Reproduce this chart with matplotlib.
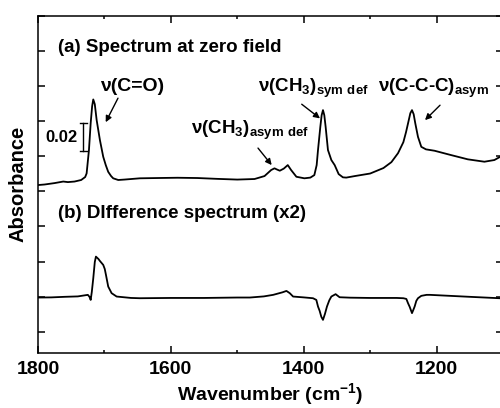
import numpy as np
from matplotlib import pyplot as plt
from matplotlib.ticker import MultipleLocator

plt.rcParams['font.family'] = ['Liberation Sans', 'DejaVu Sans']
plt.rcParams['font.weight'] = 'bold'
plt.rcParams['mathtext.default'] = 'regular'

# (a) spectrum at zero field
wn_a = [1800, 1790, 1775, 1762, 1755, 1745, 1735, 1729, 1726.8, 1723.3, 1720.7, 1718.5,
        1716.8, 1714.5, 1711.7, 1706.8, 1701.8, 1698, 1694.3, 1690, 1686.8, 1679.2, 1670,
        1646.6, 1620, 1590, 1560, 1530, 1500, 1474, 1459, 1449, 1444, 1440, 1436, 1430,
        1424, 1419, 1411, 1399, 1390, 1384, 1380.5, 1378.5, 1375, 1373, 1371, 1369, 1367,
        1363.5, 1358.4, 1353.4, 1347.4, 1341, 1336, 1323, 1300, 1280, 1268, 1258, 1250,
        1246, 1243, 1239.5, 1237, 1234.5, 1232, 1228, 1223, 1216, 1203, 1178, 1153, 1128,
        1113, 1105, 1100]
abs_a = [0.1044, 0.1048, 0.1058, 0.1069, 0.1065, 0.1069, 0.1080, 0.1101, 0.1127, 0.1293,
         0.1484, 0.1605, 0.1653, 0.1619, 0.1506, 0.1364, 0.1245, 0.1186, 0.1138, 0.1108,
         0.1092, 0.1080, 0.1083, 0.1092, 0.1094, 0.1096, 0.1094, 0.1088, 0.1083, 0.1087,
         0.1108, 0.1151, 0.1163, 0.1154, 0.1146, 0.1161, 0.1186, 0.1151, 0.1103, 0.1092,
         0.1097, 0.1115, 0.1186, 0.1293, 0.1458, 0.1541, 0.1577, 0.1541, 0.1458, 0.1293,
         0.1222, 0.1186, 0.1122, 0.1099, 0.1097, 0.1108, 0.1126, 0.1165, 0.1207, 0.1271,
         0.1349, 0.1420, 0.1482, 0.1555, 0.1577, 0.1548, 0.1482, 0.1387, 0.1316, 0.1298,
         0.1288, 0.1257, 0.1227, 0.1210, 0.1222, 0.1243, 0.1250]

# (b) difference spectrum (x2)
wn_b = [1800, 1780, 1760, 1740, 1725, 1722.5, 1720.7, 1719, 1716.8, 1714.5, 1712.8, 1709,
        1706.8, 1701.8, 1699.5, 1697.7, 1694.3, 1689.2, 1681.6, 1660, 1646.6, 1600, 1550,
        1500, 1481, 1460, 1446, 1432, 1426, 1421, 1416, 1400, 1386, 1381, 1378.5, 1376,
        1373.5, 1371, 1368, 1365, 1361.5, 1358.4, 1352, 1346, 1330, 1300, 1260, 1250,
        1245.5, 1243, 1240.5, 1237, 1235, 1233, 1230.5, 1228, 1223, 1215, 1210, 1180, 1150,
        1105, 1100]
abs_b = [0.0244, 0.0245, 0.0249, 0.0252, 0.0263, 0.0249, 0.0227, 0.0284, 0.0381, 0.0497,
         0.0535, 0.0518, 0.0504, 0.0476, 0.0447, 0.0405, 0.0322, 0.0275, 0.0251, 0.0241,
         0.0239, 0.0241, 0.0241, 0.0244, 0.0244, 0.0252, 0.0263, 0.0281, 0.0291, 0.0275,
         0.0251, 0.0245, 0.0239, 0.0227, 0.0180, 0.0149, 0.0107, 0.0085, 0.0128, 0.0180,
         0.0224, 0.0251, 0.0268, 0.0246, 0.0243, 0.0241, 0.0241, 0.0239, 0.0234, 0.0204,
         0.0178, 0.0133, 0.0156, 0.0180, 0.0220, 0.0239, 0.0256, 0.0263, 0.0263, 0.0256,
         0.0249, 0.0239, 0.0239]

fig = plt.figure(figsize=(5, 4.08), dpi=100)
ax = fig.add_axes([0.076, 0.135, 0.93, 0.827])

ax.plot(wn_a, abs_a, color='k', lw=1.3)
ax.plot(wn_b, abs_b, color='k', lw=1.3)

ax.set_xlim(1800, 1100)
ax.set_ylim(-0.015, 0.225)
ax.xaxis.set_major_locator(MultipleLocator(200))
ax.xaxis.set_minor_locator(MultipleLocator(100))
ax.yaxis.set_major_locator(MultipleLocator(0.025))
ax.set_yticklabels([])
ax.tick_params(which='both', direction='in', top=True, right=True, width=1.1)
ax.tick_params(which='major', length=5)
ax.tick_params(which='minor', length=2.5)
ax.tick_params(axis='x', labelsize=14, pad=6)
for s in ax.spines.values():
    s.set_linewidth(1.1)

ax.set_xlabel('Wavenumber (cm$^{-1}$)', fontsize=14, fontweight='bold', labelpad=2)
ax.set_ylabel('Absorbance', fontsize=14.5, fontweight='bold', labelpad=4)

#panel titles
ax.text(1770, 0.2024, '(a) Spectrum at zero field', fontsize=13.5, fontweight='bold', va='center')
ax.text(1770, 0.0845, '(b) DIfference spectrum (x2)', fontsize=13.5, fontweight='bold', va='center')

#peak labels
ax.text(1657.7, 0.1747, 'ν(C=O)', fontsize=14, fontweight='bold', ha='center', va='center')
ax.text(1570, 0.1406, 'ν(CH$_3$)$_{asym\\ def}$', fontsize=13.5, fontweight='bold', va='baseline')
ax.text(1469, 0.1705, 'ν(CH$_3$)$_{sym\\ def}$', fontsize=13.5, fontweight='bold', va='baseline')
ax.text(1288, 0.1705, 'ν(C-C-C)$_{asym}$', fontsize=13.5, fontweight='bold', va='baseline')

arrows = [((1679.6, 0.1662), (1698.1, 0.1491)),
          ((1468.8, 0.1307), (1448.2, 0.1186)),
          ((1403, 0.1619), (1375.5, 0.1518)),
          ((1194.8, 0.1612), (1217.4, 0.1506))]
for tail, head in arrows:
    ax.annotate('', xy=head, xytext=tail,
                arrowprops=dict(arrowstyle='-|>', color='k', lw=1, mutation_scale=9, shrinkA=0, shrinkB=0))

#scale bar
ax.plot([1731.8, 1731.8], [0.1286, 0.1484], color='k', lw=1)
ax.plot([1736.8, 1726.2], [0.1484, 0.1484], color='k', lw=1)
ax.plot([1736.8, 1726.2], [0.1286, 0.1286], color='k', lw=1)
ax.text(1764.6, 0.1385, '0.02', fontsize=12, fontweight='bold', ha='center', va='center')

fig.savefig('out.png', dpi=100)
